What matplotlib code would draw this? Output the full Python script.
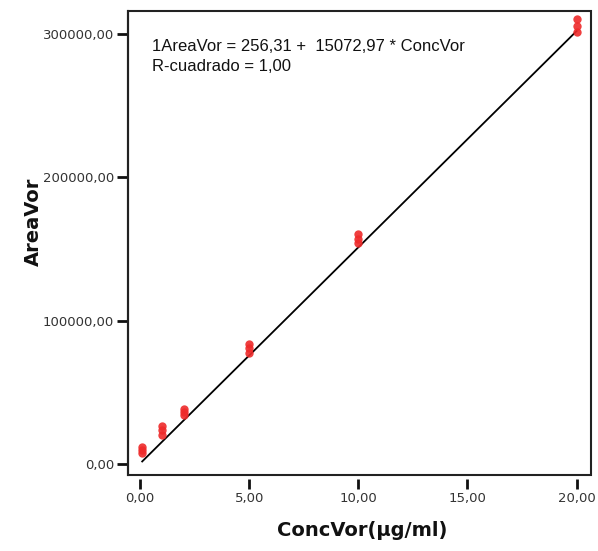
import matplotlib.pyplot as plt
from matplotlib.patches import Rectangle

# datos (replicas por concentracion)
conc = [0.1, 1, 2, 5, 10, 20]
area_rep1 = [7500, 20500, 34000, 77500, 154000, 301000]
area_rep2 = [9500, 23500, 36000, 80500, 157000, 305500]
area_rep3 = [11500, 26500, 38000, 83500, 160000, 310000]

# recta de regresion indicada en el grafico
intercepto = 256.31
pendiente = 15072.97

xticks = [0, 5, 10, 15, 20]
xtick_labels = ["0,00", "5,00", "10,00", "15,00", "20,00"]
yticks = [0, 100000, 200000, 300000]
ytick_labels = ["0,00", "100000,00", "200000,00", "300000,00"]

fig = plt.figure(figsize=(5.98, 5.51), dpi=100)
ax = fig.add_axes([128 / 598, 76 / 551, 463 / 598, 464 / 551])

xs = [conc[0], conc[-1]]
ax.plot(xs, [intercepto + pendiente * v for v in xs], color="black", lw=1.3, zorder=2)

for rep in (area_rep1, area_rep2, area_rep3):
    ax.plot(conc, rep, "o", color="#ee2a2a", ms=6, mec="none", alpha=0.9, zorder=3)

ax.set_xlim(-0.55, 20.66)
ax.set_ylim(-7670, 315700)
ax.set_xticks(xticks)
ax.set_xticklabels(xtick_labels)
ax.set_yticks(yticks)
ax.set_yticklabels(ytick_labels)

for s in ("top", "right"):
    ax.spines[s].set_visible(False)
ax.spines["bottom"].set_position(("outward", 3))
ax.spines["bottom"].set_visible(False)
ax.spines["left"].set_linewidth(1.5)
ax.add_patch(Rectangle((0, 0), 1, 1, transform=ax.transAxes, fill=False,
                       lw=1.5, ec="#222222", clip_on=False, zorder=4))

ax.tick_params(axis="x", length=7, width=2, color="#111111", pad=2,
               labelsize=9.5, labelcolor="#333333")
ax.tick_params(axis="y", length=8, width=2, color="#111111", pad=2,
               labelsize=9.5, labelcolor="#333333")

ax.text(0.051, 0.923, "1AreaVor = 256,31 +  15072,97 * ConcVor", transform=ax.transAxes,
        family="Liberation Sans", fontsize=12, va="center", ha="left", color="#111111")
ax.text(0.051, 0.880, "R-cuadrado = 1,00", transform=ax.transAxes,
        family="Liberation Sans", fontsize=12, va="center", ha="left", color="#111111")

fig.text(362 / 598, 1 - 530 / 551, "ConcVor(µg/ml)", family="DejaVu Sans",
         fontsize=14, fontweight="bold", ha="center", va="center", color="#111111")
fig.text(33 / 598, 1 - 222 / 551, "AreaVor", family="DejaVu Sans",
         fontsize=14, fontweight="bold", ha="center", va="center", rotation=90,
         color="#111111")

fig.savefig("out.png", dpi=100)
